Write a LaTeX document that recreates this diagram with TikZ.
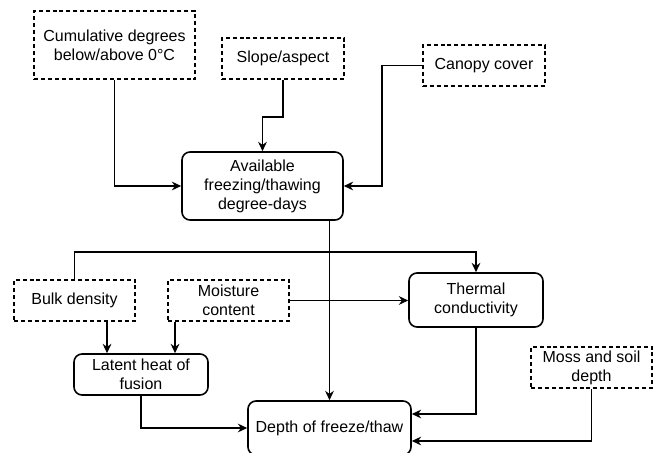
\documentclass[tikz,border=0pt]{standalone}
\usepackage{fontspec}
\setmainfont{Liberation Sans}
\usetikzlibrary{positioning,arrows.meta,calc}
\tikzset{
  inbox/.style={draw,dashed,dash pattern=on 3pt off 2.2pt,line width=1.2pt,
    align=center,inner sep=2pt,font=\fontsize{12}{14.3}\selectfont},
  procbox/.style={draw,rounded corners=6pt,line width=1.2pt,
    align=center,inner sep=2pt,font=\fontsize{12}{14.3}\selectfont},
  arr/.style={-{Stealth[length=7pt,width=6.5pt]},line width=1.3pt},
}
\begin{document}
\begin{tikzpicture}[x=0.75pt,y=-0.75pt]
  \useasboundingbox (0,0) rectangle (660,453);
  % inputs (dashed)
  \node[inbox,minimum width=120.75pt,minimum height=51pt] (cum) at (114.5,45)
    {Cumulative degrees\\below/above 0°C};
  \node[inbox,minimum width=91.5pt,minimum height=30.75pt] (slope) at (283,58.5) {Slope/aspect};
  \node[inbox,minimum width=91.5pt,minimum height=30.75pt] (canopy) at (484,65.5) {Canopy cover};
  \node[inbox,minimum width=90.75pt,minimum height=30.75pt] (bulk) at (74.5,300.5) {Bulk density};
  \node[inbox,minimum width=90.75pt,minimum height=30.75pt] (moist) at (228.5,300.5) {Moisture\\content};
  \node[inbox,minimum width=90.75pt,minimum height=30.75pt] (moss) at (591.5,367.5) {Moss and soil\\depth};
  % derived quantities
  \node[procbox,minimum width=120.75pt,minimum height=51pt] (avail) at (262.5,186)
    {Available\\freezing/thawing\\degree-days};
  \node[procbox,minimum width=100.5pt,minimum height=40.5pt] (therm) at (476,300) {Thermal\\conductivity};
  \node[procbox,minimum width=100.5pt,minimum height=30.75pt] (latent) at (141,374.5) {Latent heat of\\fusion};
  \node[procbox,minimum width=122.25pt,minimum height=40.5pt] (depth) at (329.5,428) {Depth of freeze/thaw};

  % connectors
  \draw[arr] (cum.south) |- (avail.west);
  \draw[arr] (slope.south) -- ++(0,37) -| (avail.north);
  \draw[arr] (canopy.west) -- ++(-40,0) |- (avail.east);
  \draw[arr] (avail.south -| depth.north) -- (depth.north);
  \draw[arr] (bulk.north) -- ++(0,-27) -| (therm.north);
  \draw[arr] (moist.east) -- (moist.east -| therm.west);
  \draw[arr] ([xshift=24.4pt]bulk.south) -- ([xshift=24.4pt]bulk.south |- latent.north);
  \draw[arr] ([xshift=-40.1pt]moist.south) -- ([xshift=-40.1pt]moist.south |- latent.north);
  \draw[arr] (latent.south) |- (depth.west);
  \draw[arr] (therm.south) |- ([yshift=10.5pt]depth.east);
  \draw[arr] (moss.south) |- ([yshift=-9.75pt]depth.east);
\end{tikzpicture}
\end{document}
